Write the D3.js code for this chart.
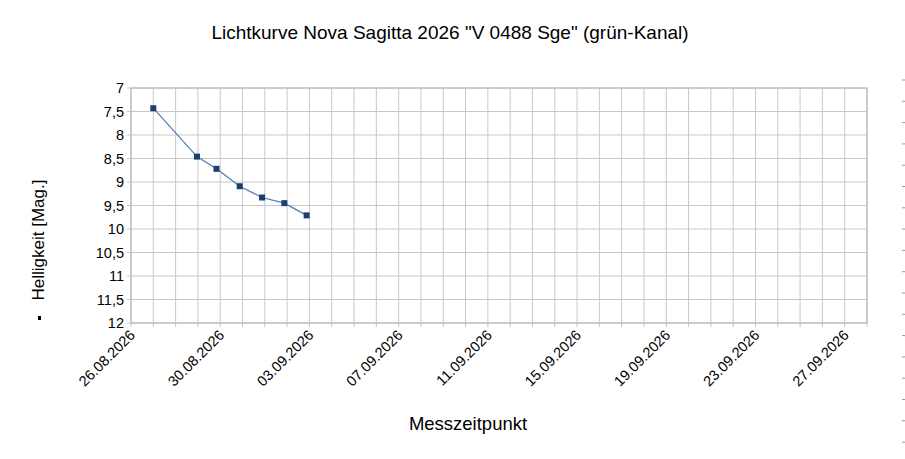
<!DOCTYPE html>
<html><head><meta charset="utf-8">
<script src="https://cdn.jsdelivr.net/npm/d3@7"></script>
<style>body{margin:0;background:#fff}svg{font-family:"Liberation Sans",Arial,sans-serif}</style>
</head><body><svg id="c" width="905" height="459"></svg>
<script>
const dates = ["2026-08-27T00:00","2026-08-28T23:00","2026-08-29T20:00","2026-08-30T21:00","2026-08-31T21:00","2026-09-01T21:00","2026-09-02T21:00"];
const mags = [7.43, 8.46, 8.72, 9.09, 9.33, 9.45, 9.71];
const yTicks = [7,7.5,8,8.5,9,9.5,10,10.5,11,11.5,12];
const xStart = "2026-08-26", xEnd = "2026-09-28";

const svg = d3.select("#c");
const L=131,R=867,T=88,B=323;
const x = d3.scaleTime().domain([new Date(xStart+"T00:00"), new Date(xEnd+"T00:00")]).range([L,R]);
const y = d3.scaleLinear().domain([7,12]).range([T,B]);
const days = d3.timeDay.range(new Date(xStart+"T00:00"), d3.timeDay.offset(new Date(xEnd+"T00:00"),1));
const g = svg.append("g");
g.selectAll(".vg").data(days).join("line").attr("x1",d=>x(d)).attr("x2",d=>x(d)).attr("y1",T).attr("y2",B+4).attr("stroke","#c8c8c8");
g.selectAll(".hg").data(yTicks).join("line").attr("x1",L-4).attr("x2",R).attr("y1",d=>y(d)).attr("y2",d=>y(d)).attr("stroke","#c8c8c8");
g.append("rect").attr("x",L).attr("y",T).attr("width",R-L).attr("height",B-T).attr("fill","none").attr("stroke","#b3b3b3");
svg.selectAll(".yl").data(yTicks).join("text").attr("x",L-7).attr("y",d=>y(d)+5).attr("text-anchor","end").attr("font-size",14.5).attr("fill","#000").text(d=>String(d).replace(".",","));
const lab = days.filter((d,i)=>i%4===0);
const fmt = d3.timeFormat("%d.%m.%Y");
svg.selectAll(".xl").data(lab).join("text").attr("font-size",14.5).attr("text-anchor","end")
 .attr("transform",d=>`translate(${x(d)+5},${B+13}) rotate(-45)`).text(d=>fmt(d));
const pts = dates.map((d,i)=>[x(new Date(d)), y(mags[i])]);
svg.append("path").attr("d",d3.line()(pts)).attr("fill","none").attr("stroke","#4a7eb0").attr("stroke-width",1.2);
svg.selectAll(".pt").data(pts).join("rect").attr("x",d=>d[0]-3).attr("y",d=>d[1]-3).attr("width",6).attr("height",6).attr("fill","#1c3f6e");
svg.append("text").attr("x",450).attr("y",39).attr("text-anchor","middle").attr("font-size",19).text('Lichtkurve Nova Sagitta 2026 "V 0488 Sge" (grün-Kanal)');
svg.append("text").attr("x",468).attr("y",430).attr("text-anchor","middle").attr("font-size",18.5).text("Messzeitpunkt");
svg.append("text").attr("transform","translate(44,240) rotate(-90)").attr("text-anchor","middle").attr("font-size",17).text("Helligkeit [Mag.]");
svg.selectAll(".dash").data(d3.range(18)).join("line").attr("x1",902).attr("x2",905).attr("y1",d=>80+d*21.3).attr("y2",d=>80+d*21.3).attr("stroke","#999");
svg.append("rect").attr("x",38).attr("y",316).attr("width",3).attr("height",4).attr("fill","#000");
</script></body></html>
